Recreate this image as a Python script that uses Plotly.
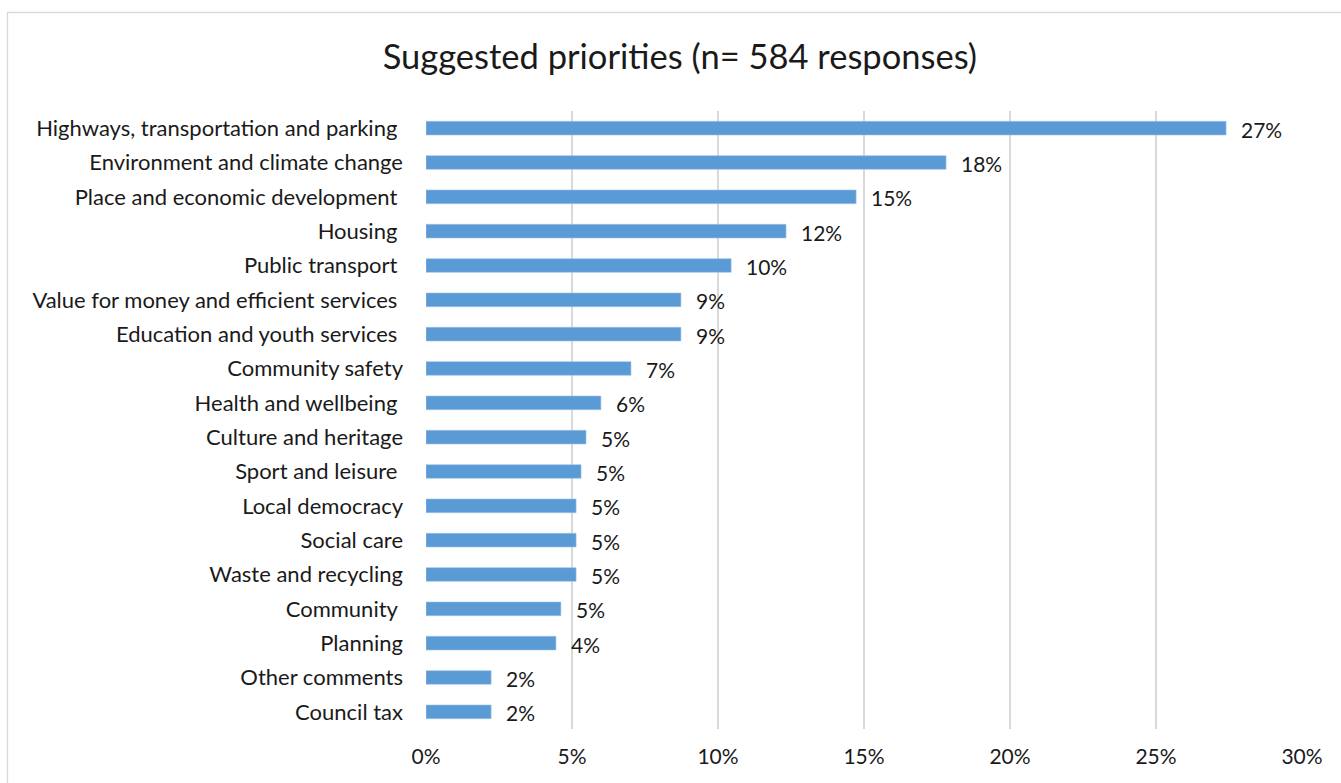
import plotly.graph_objects as go

# Share of responses per suggested priority (percent)
categories = [
    "Highways, transportation and parking ",
    "Environment and climate change",
    "Place and economic development ",
    "Housing ",
    "Public transport ",
    "Value for money and efficient services ",
    "Education and youth services ",
    "Community safety",
    "Health and wellbeing ",
    "Culture and heritage",
    "Sport and leisure ",
    "Local democracy",
    "Social care",
    "Waste and recycling",
    "Community ",
    "Planning",
    "Other comments",
    "Council tax",
]
shares = [27.40, 17.81, 14.73, 12.33, 10.45, 8.73, 8.73, 7.02, 5.99, 5.48,
          5.31, 5.14, 5.14, 5.14, 4.62, 4.45, 2.23, 2.23]
x_ticks = [0, 5, 10, 15, 20, 25, 30]
x_tick_labels = ["0%", "5%", "10%", "15%", "20%", "25%", "30%"]

FONT = "Lato, 'Open Sans', sans-serif"
TEXT_COLOR = "#1a1a1a"
BAR_COLOR = "#5B9BD5"
GRID_COLOR = "#D9D9D9"

# trailing spaces survive SVG rendering only as non-breaking spaces
tick_text = [c[:-1] + "\u00a0" if c.endswith(" ") else c for c in categories]

fig = go.Figure()
fig.add_trace(go.Bar(
    x=shares,
    y=categories,
    orientation="h",
    marker=dict(color=BAR_COLOR, line=dict(color="#9DC3E6", width=0.6)),
    hovertemplate="%{y}: %{x:.0f}%<extra></extra>",
))

# value labels to the right of each bar
annotations = [
    dict(x=v, y=c, xref="x", yref="y", text=f"{v:.0f}%", showarrow=False,
         xanchor="left", xshift=13, yshift=-1,
         font=dict(family=FONT, size=21, color=TEXT_COLOR))
    for c, v in zip(categories, shares)
]

W, H = 1341, 783
L, R, T, B = 426, 39, 111, 54
pw, ph = W - L - R, H - T - B


def px_x(p):
    return (p - L) / pw


def px_y(p):
    return (H - B - p) / ph


fig.update_layout(
    width=W, height=H,
    margin=dict(l=L, r=R, t=T, b=B, pad=0),
    paper_bgcolor="white", plot_bgcolor="white",
    bargap=0.6,
    showlegend=False,
    title=dict(text="Suggested priorities (n= 584 responses)",
               x=0.507, xanchor="center", y=1 - 57 / H, yanchor="middle",
               font=dict(family=FONT, size=34.5, color=TEXT_COLOR)),
    xaxis=dict(range=[0, 30], tickvals=x_ticks, ticktext=x_tick_labels,
               showgrid=True, gridcolor=GRID_COLOR, gridwidth=1.5,
               zeroline=False, showline=False, ticks="",
               ticklabelstandoff=13,
               tickfont=dict(family=FONT, size=21, color=TEXT_COLOR),
               fixedrange=True),
    yaxis=dict(autorange="reversed", tickvals=categories, ticktext=tick_text,
               showgrid=False, zeroline=False, showline=False, ticks="",
               ticklabelstandoff=22,
               tickfont=dict(family=FONT, size=22, color=TEXT_COLOR),
               fixedrange=True),
    annotations=annotations,
    shapes=[dict(type="rect", xref="paper", yref="paper",
                 x0=px_x(7.5), x1=px_x(1350), y0=px_y(800), y1=px_y(12.5),
                 line=dict(color=GRID_COLOR, width=1.3), layer="below")],
)

fig.write_html("out.html", config={"displayModeBar": False})
